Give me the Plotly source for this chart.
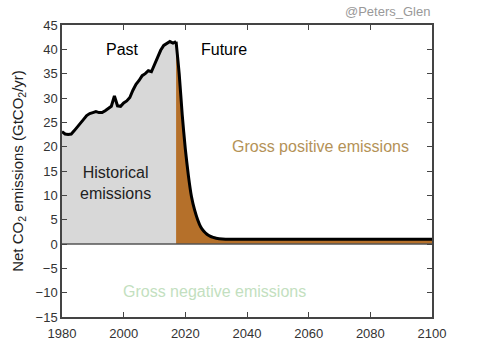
import plotly.graph_objects as go

past_years = list(range(1980, 2018))
past_values = [23.1, 22.6, 22.5, 22.6, 23.3, 24.0, 24.8, 25.6, 26.4, 26.8,
               27.0, 27.2, 27.0, 27.0, 27.4, 27.8, 28.3, 30.4, 28.4, 28.3,
               29.0, 29.4, 30.1, 31.6, 32.8, 33.6, 34.6, 35.0, 35.6, 35.4,
               37.0, 38.6, 39.8, 40.8, 41.2, 41.6, 41.3, 41.6]

future_years = [2017, 2018, 2019, 2020, 2021, 2022, 2023, 2024, 2025, 2026,
                2027, 2028, 2029, 2030, 2032, 2035, 2040, 2060, 2080, 2100]
future_values = [41.6, 35.0, 26.5, 19.5, 14.0, 9.7, 7.0, 5.0, 3.5, 2.6,
                 2.0, 1.6, 1.35, 1.2, 1.05, 1.0, 1.0, 1.0, 1.0, 1.0]

x_ticks = [1980, 2000, 2020, 2040, 2060, 2080, 2100]
y_ticks = [-15, -10, -5, 0, 5, 10, 15, 20, 25, 30, 35, 40, 45]

fig = go.Figure()
fig.add_trace(go.Scatter(x=past_years, y=past_values, mode="lines", fill="tozeroy",
                         fillcolor="#d8d8d8", line=dict(width=0, color="#d8d8d8"),
                         hoverinfo="skip", showlegend=False))
fig.add_trace(go.Scatter(x=future_years, y=future_values, mode="lines", fill="tozeroy",
                         fillcolor="#b5702a", line=dict(width=0, color="#b5702a", shape="spline",
                                                        smoothing=0.6),
                         hoverinfo="skip", showlegend=False))
fig.add_trace(go.Scatter(x=[1980, 2100], y=[0, 0], mode="lines",
                         line=dict(width=1.5, color="#555555"),
                         hoverinfo="skip", showlegend=False))
fig.add_trace(go.Scatter(x=past_years, y=past_values,
                         mode="lines", line=dict(width=3, color="black"),
                         hoverinfo="skip", showlegend=False))
fig.add_trace(go.Scatter(x=future_years, y=future_values,
                         mode="lines", line=dict(width=3, color="black", shape="spline",
                                                 smoothing=0.6),
                         hoverinfo="skip", showlegend=False))

font_ann = dict(family="Liberation Sans, Arial, sans-serif", size=16)
anns = [
    dict(x=1999.6, y=40, text="Past", font=dict(**font_ann, color="black")),
    dict(x=2032.5, y=40, text="Future", font=dict(**font_ann, color="black")),
    dict(x=1997.5, y=12.6, text="Historical<br>emissions", font=dict(**font_ann, color="#222222")),
    dict(x=2063.8, y=20.1, text="Gross positive emissions", font=dict(**font_ann, color="#b49257")),
    dict(x=2029.6, y=-9.8, text="Gross negative emissions", font=dict(**font_ann, color="#c3dfc0")),
]
for a in anns:
    fig.add_annotation(xref="x", yref="y", showarrow=False, **a)
fig.add_annotation(xref="paper", yref="paper", x=1.0, y=1.0, yshift=14, xanchor="right",
                   yanchor="middle", showarrow=False, text="@Peters_Glen",
                   font=dict(family="Liberation Sans, Arial, sans-serif", size=13, color="#999999"))

axis_common = dict(showgrid=False, zeroline=False, showline=True, linecolor="#444444",
                   linewidth=1.5, ticks="inside", ticklen=5, tickcolor="#444444",
                   mirror="ticks", tickfont=dict(family="Liberation Sans, Arial, sans-serif",
                                                 size=13, color="#333333"))
fig.update_xaxes(range=[1980, 2100], tickvals=x_ticks, ticklabelstandoff=4, **axis_common)
fig.update_yaxes(range=[-15, 45], tickvals=y_ticks,
                 title=dict(text="Net CO<sub>2</sub> emissions (GtCO<sub>2</sub>/yr)",
                            font=dict(family="Liberation Sans, Arial, sans-serif", size=15,
                                      color="#222222"), standoff=8),
                 **axis_common)
fig.update_layout(width=478, height=352, margin=dict(l=62, r=46, t=25, b=35),
                  plot_bgcolor="white", paper_bgcolor="white")
fig.write_html("out.html")
